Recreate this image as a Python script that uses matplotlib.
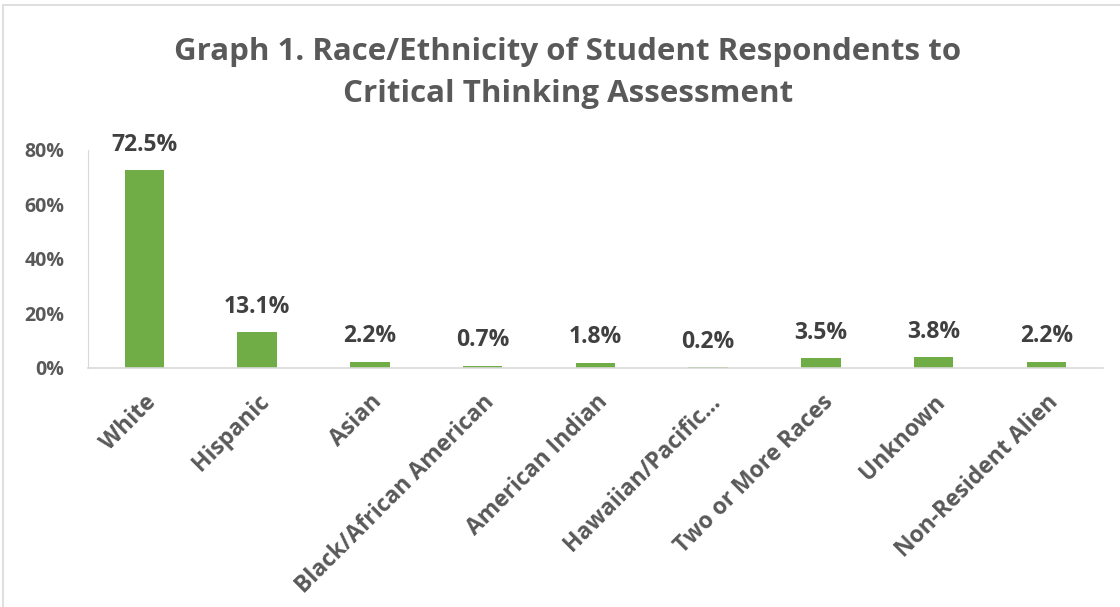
import matplotlib.pyplot as plt
from matplotlib.patches import Rectangle
from matplotlib.ticker import PercentFormatter

categories = ["White", "Hispanic", "Asian", "Black/African American", "American Indian",
              "Hawaiian/Pacific...", "Two or More Races", "Unknown", "Non-Resident Alien"]
shares = [72.5, 13.1, 2.2, 0.7, 1.8, 0.2, 3.5, 3.8, 2.2]
labels = ["72.5%", "13.1%", "2.2%", "0.7%", "1.8%", "0.2%", "3.5%", "3.8%", "2.2%"]
yticks = [0, 20, 40, 60, 80]

GREEN = "#70AD47"
GRAY = "#595959"
DARK = "#404040"

plt.rcParams['font.family'] = ['Open Sans', 'DejaVu Sans']

fig = plt.figure(figsize=(11.2, 6.07), dpi=100)
ax = fig.add_axes([0.0786, 0.394, 0.906, 0.359])

x = range(len(categories))
ax.bar(x, shares, width=0.35, color=GREEN)

for i, (v, lab) in enumerate(zip(shares, labels)):
    ax.annotate(lab, (i, v), xytext=(0, 14), textcoords="offset points",
                ha="center", va="baseline", fontsize=16.5, fontweight="bold", color=DARK)

ax.set_xlim(-0.5, len(categories) - 0.5)
ax.set_ylim(0, 80)
ax.set_yticks(yticks)
ax.yaxis.set_major_formatter(PercentFormatter(decimals=0))
ax.set_xticks(list(x))
ax.set_xticklabels(categories, rotation=45, ha="right", rotation_mode="anchor")

for lab in ax.get_yticklabels() + ax.get_xticklabels():
    lab.set_fontweight("bold")
    lab.set_color(GRAY)
for lab in ax.get_yticklabels():
    lab.set_fontsize(14)
for lab in ax.get_xticklabels():
    lab.set_fontsize(16.5)

ax.tick_params(axis="y", length=0, pad=17)
ax.tick_params(axis="x", length=0, pad=16)
for s in ["top", "right"]:
    ax.spines[s].set_visible(False)
ax.spines["left"].set_color("#D9D9D9")
ax.spines["bottom"].set_color("#D9D9D9")
ax.spines["bottom"].set_linewidth(1.2)

fig.text(0.507, 0.88, "Graph 1. Race/Ethnicity of Student Respondents to\nCritical Thinking Assessment",
         ha="center", va="center", fontsize=22.5, fontweight="bold", color=GRAY, linespacing=1.5)

# outer chart border
fig.patches.append(Rectangle((0.003, -0.1), 1.1, 1.092, transform=fig.transFigure,
                             fill=False, edgecolor="#D9D9D9", linewidth=1.2))

fig.savefig("out.png", dpi=100)
